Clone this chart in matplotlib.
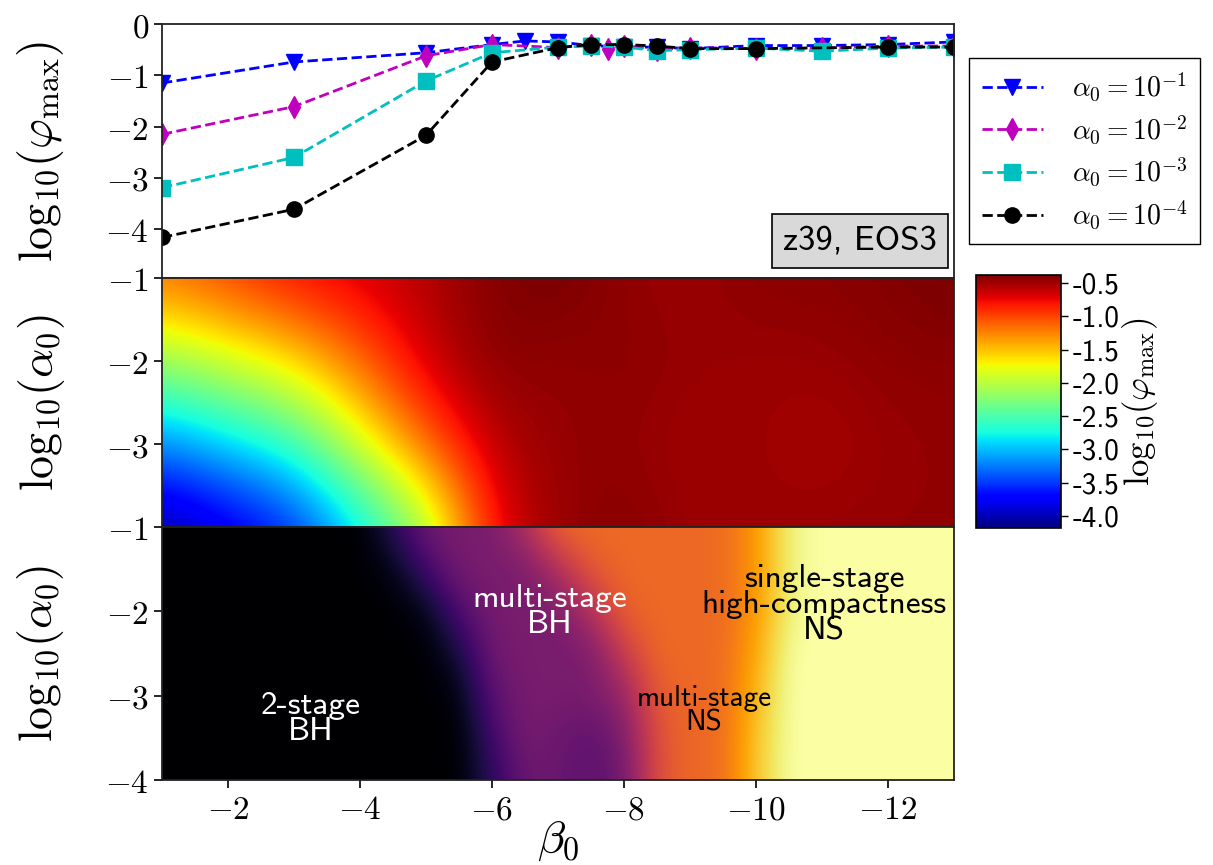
import matplotlib
matplotlib.use("Agg")
import matplotlib.pyplot as plt
import numpy as np

plt.rcParams["mathtext.fontset"] = "cm"
plt.rcParams["axes.unicode_minus"] = False
SANS = "cmss10"

# top panel: log10(phi_max) vs beta_0, one series per alpha_0
beta_a1 = [-1, -3, -5, -6, -6.5, -7, -7.5, -8, -8.5, -9, -10, -11, -12, -13]
phi_a1 = [-1.15, -0.74, -0.56, -0.40, -0.33, -0.35, -0.42, -0.45, -0.45, -0.48, -0.42, -0.42, -0.40, -0.35]
beta_a2 = [-1, -3, -5, -6, -7, -7.5, -7.75, -8, -8.5, -9, -10, -11, -12, -13]
phi_a2 = [-2.15, -1.61, -0.62, -0.40, -0.46, -0.40, -0.48, -0.42, -0.50, -0.46, -0.48, -0.47, -0.43, -0.43]
beta_a3 = [-1, -3, -5, -6, -7, -7.5, -8, -8.5, -9, -10, -11, -12, -13]
phi_a3 = [-3.19, -2.60, -1.11, -0.56, -0.45, -0.43, -0.45, -0.52, -0.50, -0.47, -0.53, -0.47, -0.45]
beta_a4 = [-1, -3, -5, -6, -7, -7.5, -8, -8.5, -9, -10, -12, -13]
phi_a4 = [-4.16, -3.61, -2.17, -0.74, -0.46, -0.40, -0.40, -0.43, -0.48, -0.48, -0.45, -0.45]
series_labels = [r"$\alpha_0 = 10^{-1}$", r"$\alpha_0 = 10^{-2}$",
                 r"$\alpha_0 = 10^{-3}$", r"$\alpha_0 = 10^{-4}$"]

# middle panel: log10(phi_max) map, rows log10(alpha_0) = -1..-4
mid_beta = [-1, -2, -3, -4, -5, -6, -7, -8, -9, -10, -11, -12, -13]
mid_log_alpha = [-1, -2, -3, -4]
mid_phi = [
    [-1.15, -0.95, -0.74, -0.65, -0.56, -0.40, -0.35, -0.45, -0.48, -0.42, -0.42, -0.40, -0.35],
    [-2.15, -1.88, -1.61, -1.12, -0.62, -0.40, -0.46, -0.42, -0.46, -0.48, -0.47, -0.43, -0.43],
    [-3.19, -2.90, -2.60, -1.85, -1.11, -0.56, -0.45, -0.45, -0.50, -0.47, -0.53, -0.47, -0.45],
    [-4.16, -3.88, -3.61, -2.89, -2.17, -0.74, -0.46, -0.40, -0.48, -0.48, -0.46, -0.45, -0.45],
]

# bottom panel: collapse type (0 2-stage BH, 1 multi-stage BH, 2 multi-stage NS, 3 single-stage NS)
bot_beta = [-1, -1.5, -2, -2.5, -3, -3.5, -4, -4.5, -5, -5.5, -6, -6.5, -7,
            -7.5, -8, -8.5, -9, -9.5, -10, -10.5, -11, -11.5, -12, -12.5, -13]
bot_log_alpha = [-1, -1.5, -2, -2.5, -3, -3.5, -4]
bot_type = [
    [0, 0, 0, 0, 0, 0, 0, 0.45, 0.95, 1, 1, 1.4, 2, 2, 2, 2, 2, 2, 2.3, 2.9, 3, 3, 3, 3, 3],
    [0, 0, 0, 0, 0, 0, 0, 0.1, 0.6, 1, 1, 1, 1.4, 1.9, 2, 2, 2, 2, 2.3, 2.9, 3, 3, 3, 3, 3],
    [0, 0, 0, 0, 0, 0, 0, 0, 0.1, 0.7, 1, 1, 1, 1.4, 1.95, 2, 2, 2, 2.3, 2.9, 3, 3, 3, 3, 3],
    [0, 0, 0, 0, 0, 0, 0, 0, 0, 0.3, 0.95, 1, 1, 1, 1.6, 2, 2, 2, 2.4, 3, 3, 3, 3, 3, 3],
    [0, 0, 0, 0, 0, 0, 0, 0, 0, 0.05, 0.8, 1, 1, 1, 1.2, 1.9, 2, 2, 2.5, 3, 3, 3, 3, 3, 3],
    [0, 0, 0, 0, 0, 0, 0, 0, 0, 0, 0.6, 1, 0.9, 0.8, 1.0, 1.8, 2, 2, 2.6, 3, 3, 3, 3, 3, 3],
    [0, 0, 0, 0, 0, 0, 0, 0, 0, 0, 0.45, 0.9, 0.9, 0.8, 0.9, 1.8, 2, 2, 2.6, 3, 3, 3, 3, 3, 3],
]
regions = [
    ("2-stage\nBH", -3.25, -3.27, "white", 24),
    ("multi-stage\nBH", -6.88, -2.0, "white", 24),
    ("multi-stage\nNS", -9.21, -3.18, "black", 21),
    ("single-stage\nhigh-compactness\nNS", -11.03, -1.92, "black", 24),
]

cbar_ticks = [-0.5, -1.0, -1.5, -2.0, -2.5, -3.0, -3.5, -4.0]
x_ticks = [-2, -4, -6, -8, -10, -12]

W, H = 1213, 865
fig = plt.figure(figsize=(W / 100, H / 100), dpi=100)
L, R = 162, 954
ax_top = fig.add_axes([L / W, 1 - 278 / H, (R - L) / W, 254 / H])
ax_mid = fig.add_axes([L / W, 1 - 527 / H, (R - L) / W, 249 / H])
ax_bot = fig.add_axes([L / W, 1 - 780 / H, (R - L) / W, 253 / H])
cax = fig.add_axes([976 / W, 1 - 528 / H, 85 / W, 253 / H])

tick_fs = 24
label_fs = 33
ylab = r"$\mathrm{log}_{10}(\varphi_{\rm max})$"

# top panel
styles = [("b", "v"), ("m", "d"), ("c", "s"), ("k", "o")]
data = [(beta_a1, phi_a1), (beta_a2, phi_a2), (beta_a3, phi_a3), (beta_a4, phi_a4)]
for (b, p), (col, mk), lab in zip(data, styles, series_labels):
    ax_top.plot(b, p, ls="--", color=col, marker=mk, ms=11, lw=2, label=lab)
ax_top.set_ylim(-4.95, 0)
ax_top.set_yticks([0, -1, -2, -3, -4])
ax_top.set_yticklabels([r"$0$", r"$-1$", r"$-2$", r"$-3$", r"$-4$"])
ax_top.set_ylabel(ylab, fontsize=label_fs, labelpad=28)
ax_top.text(0.9785, 0.085, "z39, EOS3", transform=ax_top.transAxes, ha="right", va="bottom",
            fontsize=25, family=SANS,
            bbox=dict(boxstyle="square,pad=0.32", fc="#d9d9d9", ec="black", lw=1.2))
fig.legend(loc="upper left", bbox_to_anchor=(969 / W, 1 - 58 / H), fontsize=20,
           frameon=True, fancybox=False, edgecolor="black", framealpha=1,
           labelspacing=0.36, borderpad=0.45, handlelength=2.2, handletextpad=1.05,
           borderaxespad=0)

# middle panel
ext_mid = (mid_beta[0] + 0.5, mid_beta[-1] - 0.5, mid_log_alpha[-1] - 0.5, mid_log_alpha[0] + 0.5)
im = ax_mid.imshow(np.array(mid_phi), cmap="jet", vmin=-4.18, vmax=-0.38, extent=ext_mid,
                   origin="upper", aspect="auto", interpolation="bicubic")
ax_mid.set_yticks([-1, -2, -3])
ax_mid.set_yticklabels([r"$-1$", r"$-2$", r"$-3$"])
ax_mid.set_ylabel(r"$\mathrm{log}_{10}(\alpha_0)$", fontsize=label_fs, labelpad=28)

# bottom panel
ext_bot = (bot_beta[0] + 0.25, bot_beta[-1] - 0.25, bot_log_alpha[-1] - 0.25, bot_log_alpha[0] + 0.25)
ax_bot.imshow(np.array(bot_type), cmap="inferno", vmin=0, vmax=3, extent=ext_bot,
              origin="upper", aspect="auto", interpolation="bicubic")
for txt, bx, ay, col, fs in regions:
    ax_bot.text(bx, ay, txt, color=col, fontsize=fs, family=SANS, ha="center", va="center",
                multialignment="center", linespacing=0.88)
ax_bot.set_yticks([-1, -2, -3, -4])
ax_bot.set_yticklabels([r"$-1$", r"$-2$", r"$-3$", r"$-4$"])
ax_bot.set_ylabel(r"$\mathrm{log}_{10}(\alpha_0)$", fontsize=label_fs, labelpad=28)
ax_bot.set_xticks(x_ticks)
ax_bot.set_xticklabels([r"$%d$" % t for t in x_ticks])
ax_bot.set_xlabel(r"$\beta_0$", fontsize=label_fs, labelpad=-6)

for ax in (ax_top, ax_mid, ax_bot):
    ax.set_xlim(-1, -13)
    ax.tick_params(labelsize=tick_fs, length=6, width=1.2, direction="out")
    for s in ax.spines.values():
        s.set_linewidth(1.3)
        s.set_color("#222222")
for ax in (ax_mid, ax_bot):
    ax.set_ylim(-4, -1)
for ax in (ax_top, ax_mid):
    ax.tick_params(bottom=False, labelbottom=False)
fig.align_ylabels([ax_top, ax_mid, ax_bot])

# colorbar
cb = fig.colorbar(im, cax=cax, ticks=cbar_ticks)
cb.ax.set_yticklabels(["%.1f" % t for t in cbar_ticks], family=SANS, fontsize=21)
cb.ax.tick_params(length=5, width=1)
cb.set_label(ylab, fontsize=25, labelpad=0)
cb.outline.set_linewidth(1.2)

fig.savefig("out.png", dpi=100)
